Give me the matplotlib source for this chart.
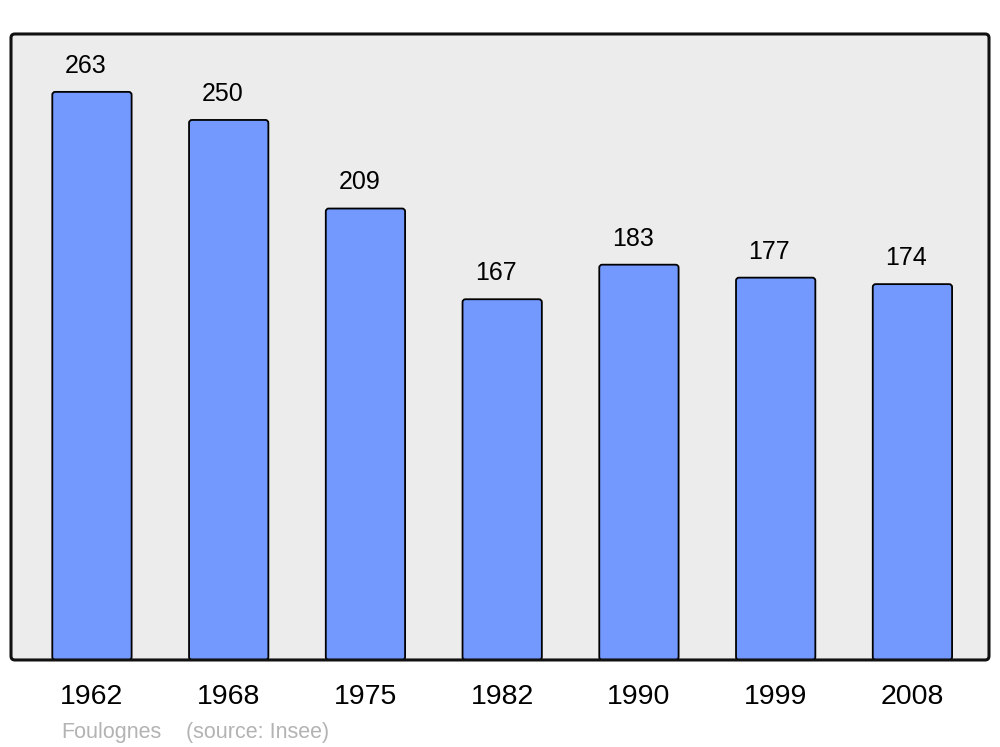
import matplotlib
matplotlib.use("Agg")
import matplotlib.pyplot as plt
from matplotlib.patches import FancyBboxPatch

years = ["1962", "1968", "1975", "1982", "1990", "1999", "2008"]
population = [263, 250, 209, 167, 183, 177, 174]
place = "Foulognes"
source = "(source: Insee)"

plt.rcParams['font.family'] = ['Liberation Sans', 'DejaVu Sans']

fig = plt.figure(figsize=(10, 7.47), dpi=100)
ax = fig.add_axes([0.011, 0.1165, 0.978, 0.838])
ax.set_xlim(-0.592, 6.56)
ax.set_ylim(0, 289.8)
ax.patch.set_visible(False)
for s in ax.spines.values():
    s.set_visible(False)

# rounded background and frame
bg = FancyBboxPatch((0, 0), 1, 1, boxstyle="round,pad=0,rounding_size=0.004",
                    mutation_aspect=978 / 626, transform=ax.transAxes,
                    facecolor="#ececec", edgecolor="none", zorder=0, clip_on=False)
ax.add_patch(bg)
frame = FancyBboxPatch((0, 0), 1, 1, boxstyle="round,pad=0,rounding_size=0.004",
                       mutation_aspect=978 / 626, transform=ax.transAxes,
                       facecolor="none", edgecolor="#111111", linewidth=2.2,
                       zorder=5, clip_on=False)
ax.add_patch(frame)

x = list(range(len(years)))
bars = ax.bar(x, population, width=0.58, color="#7399ff", edgecolor="black",
              linewidth=1.3, zorder=2)
# replace rectangles with slightly rounded boxes
px_x = 978 / (6.56 + 0.592)
px_y = 626 / 289.8
for r in bars:
    bx, by = r.get_x(), r.get_y()
    w, h = r.get_width(), r.get_height()
    r.set_visible(False)
    fb = FancyBboxPatch((bx, by), w, h,
                        boxstyle="round,pad=0,rounding_size=%f" % (3 / px_x),
                        mutation_aspect=px_x / px_y,
                        facecolor="#7399ff", edgecolor="black", linewidth=1.3,
                        zorder=2)
    ax.add_patch(fb)

for xi, v in zip(x, population):
    ax.annotate(str(v), (xi, v), xytext=(-4.5, 18.8), textcoords="offset points",
                ha="center", va="center", fontsize=18, color="black")

ax.set_xticks(x)
ax.set_xticklabels(years, fontsize=20.5)
ax.tick_params(axis="x", length=0, pad=17)
ax.set_yticks([])

fig.text(0.061, 0.020, place, fontsize=15.5, color="#b3b3b3", ha="left", va="center")
fig.text(0.186, 0.020, source, fontsize=15.5, color="#b3b3b3", ha="left", va="center")

fig.savefig("out.png", dpi=100)
